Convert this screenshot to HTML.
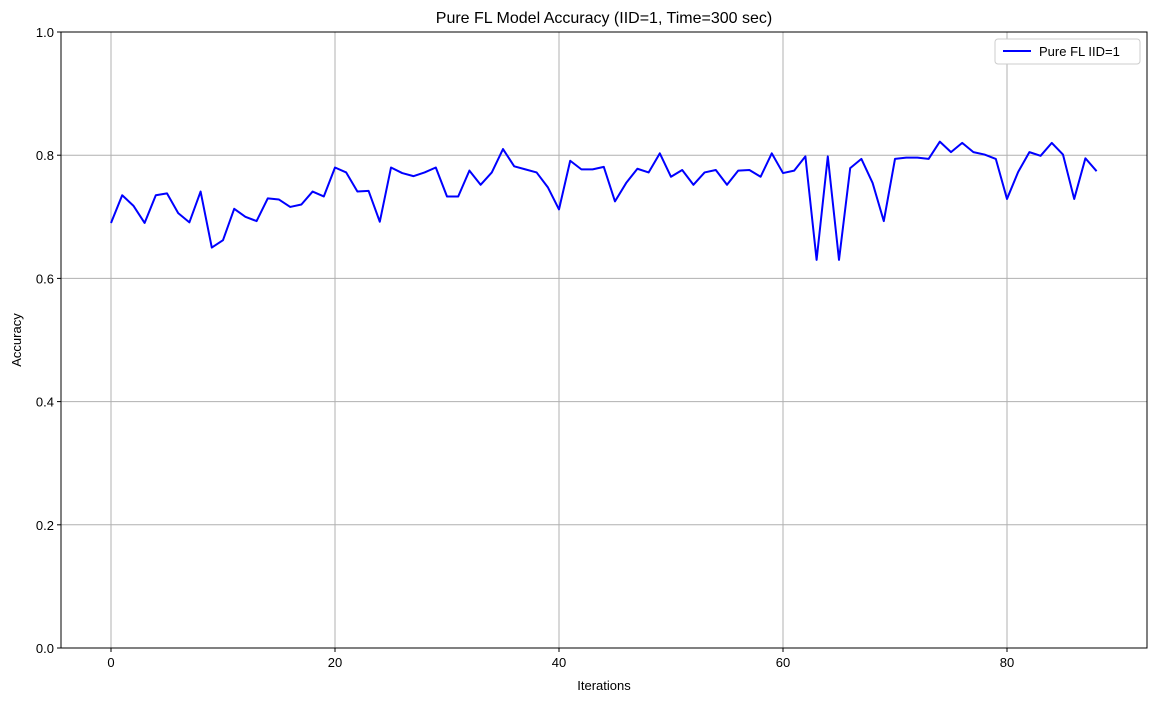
<!DOCTYPE html>
<html><head><meta charset="utf-8"><style>
body{margin:0;background:#fff;}
svg{display:block;font-family:"Liberation Sans","DejaVu Sans",sans-serif;}
</style></head><body>
<svg id="chart" width="1156" height="701">
<text x="604" y="23" text-anchor="middle" font-size="16">Pure FL Model Accuracy (IID=1, Time=300 sec)</text>
<text x="604" y="690" text-anchor="middle" font-size="13">Iterations</text>
<text x="21" y="340" text-anchor="middle" font-size="13" transform="rotate(-90 21 340)">Accuracy</text>
<g id="grid"></g><g id="ticks"></g><g id="series"></g>
<rect x="61" y="32" width="1086" height="616" fill="none" stroke="#000" stroke-width="1"/>
<g>
<rect x="995" y="39" width="145" height="25" rx="3" fill="#fff" stroke="#ccc"/>
<line x1="1003" y1="51" x2="1031" y2="51" stroke="#0000ff" stroke-width="2"/>
<text x="1039" y="56" font-size="13">Pure FL IID=1</text>
</g>
</svg>
<script>
const iterations=[...Array(89).keys()];
const accuracy=[0.69,0.735,0.718,0.69,0.735,0.738,0.706,0.691,0.741,0.65,0.662,0.713,0.70,0.693,0.73,0.728,0.716,0.72,0.741,0.733,0.78,0.772,0.741,0.742,0.692,0.78,0.771,0.766,0.772,0.78,0.733,0.733,0.775,0.752,0.772,0.81,0.782,0.777,0.772,0.748,0.712,0.791,0.777,0.777,0.781,0.725,0.755,0.778,0.772,0.803,0.765,0.776,0.752,0.772,0.776,0.752,0.775,0.776,0.765,0.803,0.771,0.775,0.798,0.63,0.798,0.63,0.779,0.794,0.755,0.693,0.794,0.796,0.796,0.794,0.822,0.805,0.82,0.805,0.801,0.794,0.729,0.773,0.805,0.799,0.82,0.801,0.729,0.795,0.774];
const xTicks=[0,20,40,60,80];
const yTicks=[0,0.2,0.4,0.6,0.8,1.0];
const NS="http://www.w3.org/2000/svg";
const X=v=>111+v*11.2;
const Y=v=>648-v*616;
function mk(tag,attrs,parent){const e=document.createElementNS(NS,tag);for(const k in attrs)e.setAttribute(k,attrs[k]);parent.appendChild(e);return e;}
const grid=document.getElementById('grid'),ticks=document.getElementById('ticks'),series=document.getElementById('series');
xTicks.forEach(t=>{
 const g=mk('line',{x1:X(t),x2:X(t),y1:32,y2:648,stroke:'#b0b0b0','stroke-width':1},grid);
 
 
 mk('line',{x1:X(t),x2:X(t),y1:648,y2:652,stroke:'#000'},ticks);
 const tx=mk('text',{x:X(t),y:667,'text-anchor':'middle','font-size':13},ticks);
 tx.textContent=t;
 
 
});
yTicks.forEach(t=>{
 const g=mk('line',{x1:61,x2:1147,y1:Y(t),y2:Y(t),stroke:'#b0b0b0','stroke-width':1},grid);
 
 
 mk('line',{x1:57,x2:61,y1:Y(t),y2:Y(t),stroke:'#000'},ticks);
 const tx=mk('text',{x:54,y:Y(t)+5,'text-anchor':'end','font-size':13},ticks);
 tx.textContent=t.toFixed(1);
 
 
});
const p=mk('polyline',{points:accuracy.map((v,i)=>X(iterations[i])+','+Y(v)).join(' '),fill:'none',stroke:'#0000ff','stroke-width':2,'stroke-linejoin':'round'},series);


</script>
</body></html>
